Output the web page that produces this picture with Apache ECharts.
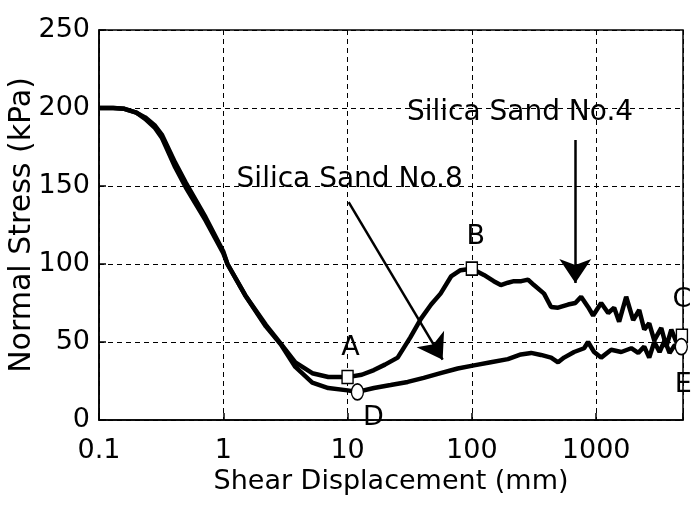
<!DOCTYPE html>
<html>
<head>
<meta charset="utf-8">
<script src="https://cdn.jsdelivr.net/npm/echarts@6/dist/echarts.min.js"></script>
<style>
    html, body { margin: 0; padding: 0; background: #fff; }
    #main { width: 692px; height: 506px; }
</style>
</head>
<body>
<div id="main"></div>
<script>
// Silica Sand No.4 (upper curve, markers A B C)
var sand4X = [0.1, 0.13, 0.16, 0.2, 0.235, 0.28, 0.32, 0.41, 0.5, 0.72, 1.0, 1.08, 1.5, 2.2, 2.9, 3.8, 5.2, 7, 10, 13, 16.3, 20, 25.3, 32, 39, 47, 56, 68, 81, 100, 125, 150, 171, 195, 218, 250, 283, 316, 381, 434, 494, 595, 680, 757, 861, 946, 1097, 1250, 1397, 1532, 1745, 1987, 2222, 2438, 2675, 2936, 3343, 3670, 4027, 4417, 4900];
var sand4Y = [200, 200, 199.5, 197, 194, 189, 183, 165, 152, 130, 108, 100, 80, 61, 49, 37, 30, 27.6, 27.5, 29, 32, 35.5, 40, 53, 65, 74, 81, 92, 96, 97, 93, 89, 86.5, 88, 89, 89, 90, 86.5, 81, 72.4, 72, 74, 75, 79, 72.5, 67, 75, 68.6, 72, 63, 79, 64, 70.5, 58, 62, 51, 59, 47, 58, 50, 54];

// Silica Sand No.8 (lower curve, markers D E)
var sand8X = [0.1, 0.13, 0.16, 0.2, 0.235, 0.28, 0.32, 0.41, 0.5, 0.72, 1.0, 1.08, 1.5, 2.2, 2.9, 3.8, 5.2, 7, 10, 12, 16.3, 22.2, 30.5, 41, 56, 77, 104, 142, 195, 248, 300, 360, 434, 494, 552, 665, 800, 861, 963, 1097, 1322, 1592, 1916, 2181, 2438, 2675, 2936, 3240, 3560, 3900, 4290, 4850];
var sand8Y = [200, 200, 199.5, 197, 193, 187.5, 181, 162, 149, 128, 107, 100, 80, 60, 48.5, 34, 24, 20.5, 19, 18, 20.5, 22.4, 24.4, 27, 30, 33, 35, 37, 39, 42, 43, 41.7, 40, 37, 40, 43.6, 46, 50, 43.6, 40, 45, 43.6, 46, 43, 47, 40, 50, 43.6, 51, 43, 48, 47];

// labelled points
var squareNames = ['A', 'B', 'C'];
var squareX = [10, 100, 4900];
var squareY = [27.6, 97, 54];
var circleNames = ['D', 'E'];
var circleX = [12, 4850];
var circleY = [18, 47];

var xTickLabels = ['0.1', '1', '10', '100', '1000'];
var yTicks = [0, 50, 100, 150, 200, 250];

var FONT = 'DejaVu Sans';

function pairs(xs, ys) {
    return xs.map(function (x, i) { return [x, ys[i]]; });
}

var myChart = echarts.init(document.getElementById('main'));

var labelOffsets = { A: [3, -29], B: [4, -32], C: [0, -36], D: [16, 26], E: [2, 38] };

function pointData(names, xs, ys) {
    return names.map(function (n, i) {
        return {
            name: n,
            value: [xs[i], ys[i]],
            label: { offset: labelOffsets[n] }
        };
    });
}

var option = {
    animation: false,
    backgroundColor: '#fff',
    grid: {
        left: 99, right: 9, top: 30, bottom: 86,
        outerBoundsMode: 'none',
        containLabel: false,
        show: true, borderColor: '#000', borderWidth: 1.5
    },
    xAxis: {
        type: 'log',
        logBase: 10,
        min: 0.1,
        max: 5000,
        name: 'Shear Displacement (mm)',
        nameLocation: 'middle',
        nameGap: 48,
        nameMoveOverlap: false,
        nameTextStyle: { fontFamily: FONT, fontSize: 27, color: '#000' },
        axisLine: { lineStyle: { color: '#000', width: 1.5 } },
        axisTick: { inside: true, length: 7, lineStyle: { color: '#000', width: 1.5 } },
        minorTick: { show: false },
        axisLabel: {
            fontFamily: FONT, fontSize: 27, color: '#000', margin: 17,
            formatter: function (v) {
                var e = Math.log10(v);
                if (Math.abs(e - Math.round(e)) > 1e-6) return '';
                return xTickLabels[Math.round(e) + 1] || '';
            }
        },
        splitLine: { show: true, lineStyle: { color: '#000', width: 1, type: [5, 4] } }
    },
    yAxis: {
        type: 'value',
        min: yTicks[0],
        max: yTicks[yTicks.length - 1],
        interval: 50,
        name: 'Normal Stress (kPa)',
        nameLocation: 'middle',
        nameGap: 62,
        nameMoveOverlap: false,
        nameTextStyle: { fontFamily: FONT, fontSize: 30, color: '#000' },
        axisLine: { show: true, lineStyle: { color: '#000', width: 1.5 } },
        axisTick: { show: true, inside: true, length: 7, lineStyle: { color: '#000', width: 1.5 } },
        axisLabel: { fontFamily: FONT, fontSize: 27, color: '#000', margin: 9 },
        splitLine: { show: true, lineStyle: { color: '#000', width: 1, type: [5, 4] } }
    },
    series: [
        {
            name: 'Silica Sand No.4',
            type: 'line',
            data: pairs(sand4X, sand4Y),
            showSymbol: false,
            lineStyle: { color: '#000', width: 4.5 },
            z: 2,
            markLine: {
                silent: true,
                symbol: ['none', 'arrow'],
                symbolSize: 24,
                label: { show: false },
                lineStyle: { color: '#000', width: 2.5, type: 'solid' },
                data: [
                    [{ coord: [680, 179.5] }, { coord: [680, 87.8] }],
                    [{ coord: [10.2, 139.7] }, { coord: [58.2, 38.7] }]
                ]
            },
            markPoint: {
                silent: true,
                symbol: 'circle',
                symbolSize: 1,
                itemStyle: { color: 'rgba(0,0,0,0)' },
                label: {
                    show: true, position: 'inside', color: '#000',
                    fontFamily: FONT, fontSize: 28,
                    formatter: function (p) { return p.name; }
                },
                data: [
                    { name: 'Silica Sand No.4', coord: [244, 197] },
                    { name: 'Silica Sand No.8', coord: [10.4, 154] }
                ]
            }
        },
        {
            name: 'Silica Sand No.8',
            type: 'line',
            data: pairs(sand8X, sand8Y),
            showSymbol: false,
            lineStyle: { color: '#000', width: 4.5 },
            z: 2
        },
        {
            type: 'scatter',
            data: pointData(squareNames, squareX, squareY),
            symbol: 'rect',
            symbolSize: [11, 13],
            itemStyle: { color: '#fff', borderColor: '#000', borderWidth: 1.5, opacity: 1 },
            label: {
                show: true, position: 'inside', color: '#000',
                fontFamily: FONT, fontSize: 27,
                formatter: function (p) { return p.name; }
            },
            z: 5
        },
        {
            type: 'scatter',
            data: pointData(circleNames, circleX, circleY),
            symbol: 'circle',
            symbolSize: [12, 16],
            itemStyle: { color: '#fff', borderColor: '#000', borderWidth: 1.5, opacity: 1 },
            label: {
                show: true, position: 'inside', color: '#000',
                fontFamily: FONT, fontSize: 27,
                formatter: function (p) { return p.name; }
            },
            z: 5
        }
    ]
};

myChart.setOption(option);
</script>
</body>
</html>
